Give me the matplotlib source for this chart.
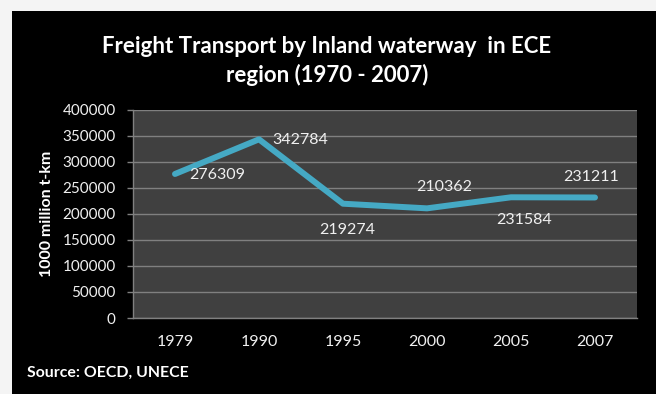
import matplotlib.pyplot as plt
from matplotlib.patches import Rectangle

plt.rcParams['font.family'] = ['Lato', 'DejaVu Sans']

years = ['1979', '1990', '1995', '2000', '2005', '2007']
freight = [276309, 342784, 219274, 210362, 231584, 231211]
# label offsets in pixels (right / above / below the point)
label_offsets = [(42, 1), (41, 1), (4, 26), (17, -21), (13, 23), (-4, -20)]

fig = plt.figure(figsize=(6.56, 3.94), dpi=100)
fig.patch.set_facecolor('#f4f4f4')
fig.patches.append(Rectangle((12 / 656, 0), 1, 1 - 11 / 394,
                             transform=fig.transFigure, facecolor='black',
                             edgecolor='none', zorder=-1))

ax = fig.add_axes([133 / 656, 1 - 318 / 394, 504 / 656, 208.5 / 394])
ax.set_facecolor('#404040')

x = list(range(len(years)))
ax.plot(x, freight, color='#45a9c4', lw=4.3, solid_joinstyle='round',
        solid_capstyle='round', zorder=3)

for xi, v, (dx, dy) in zip(x, freight, label_offsets):
    ax.annotate(str(v), (xi, v), xytext=(dx, -dy), textcoords='offset pixels',
                ha='center', va='center', color='#f0f0f0', fontsize=11.5,
                zorder=4)

ax.set_xlim(-0.5, len(years) - 0.5)
ax.set_ylim(0, 400000)
ax.set_yticks(range(0, 400001, 50000))
ax.set_xticks(x)
ax.set_xticklabels(years)
ax.grid(axis='y', color='#808080', lw=1)
ax.set_axisbelow(True)

for side in ['top', 'right']:
    ax.spines[side].set_visible(False)
for side in ['left', 'bottom']:
    ax.spines[side].set_color('#808080')
    ax.spines[side].set_linewidth(1)

ax.tick_params(axis='y', colors='#808080', labelcolor='#f0f0f0',
               labelsize=11, length=4.5, width=1, pad=8)
ax.tick_params(axis='x', length=0, labelcolor='#f0f0f0', labelsize=11.5,
               pad=12)

ax.set_ylabel('1000 million t-km', color='white', fontsize=11.5,
              fontweight='bold', labelpad=6)

fig.text(327 / 656, 1 - 61 / 394,
         'Freight Transport by Inland waterway  in ECE\nregion (1970 - 2007)',
         ha='center', va='center', color='white', fontsize=16,
         fontweight='bold', linespacing=1.4)

fig.text(27 / 656, 1 - 373 / 394, 'Source: OECD, UNECE', color='white',
         fontsize=11.4, fontweight='bold', va='center', ha='left')

fig.savefig('out.png', dpi=100, facecolor=fig.get_facecolor())
